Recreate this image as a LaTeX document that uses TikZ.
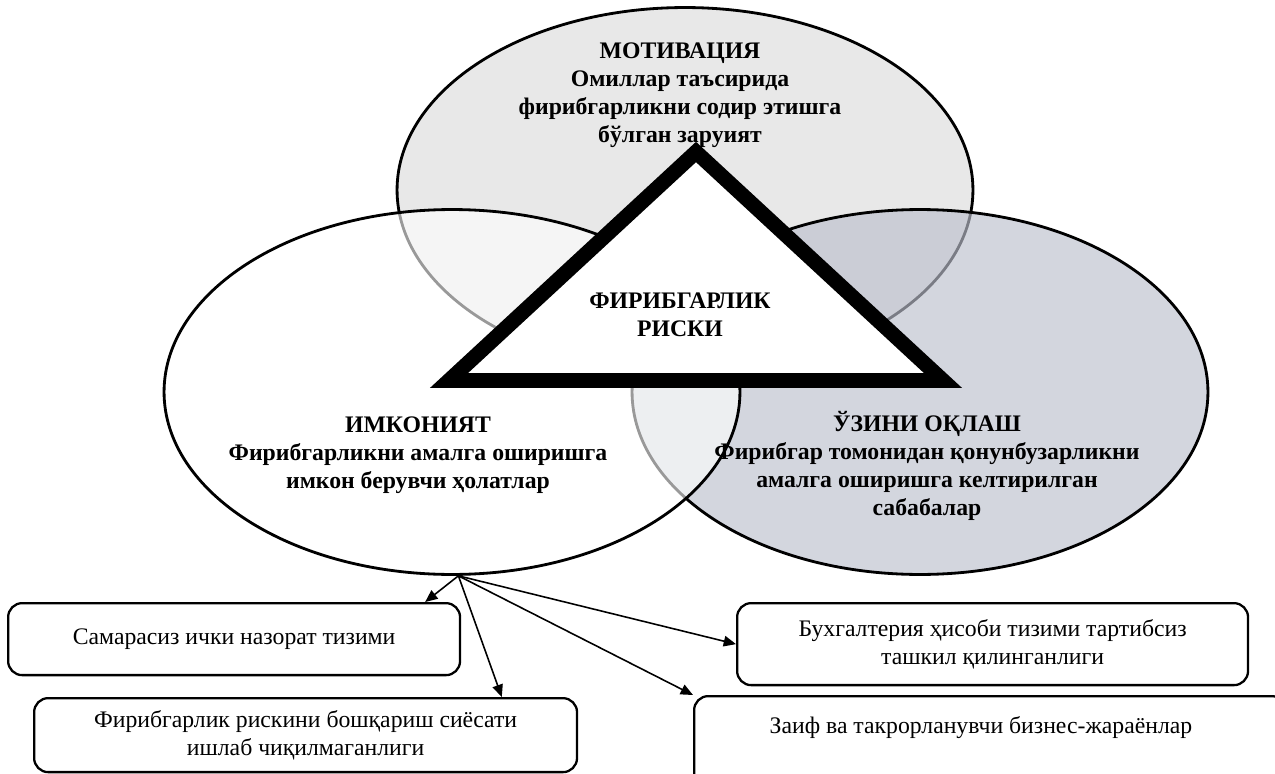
\documentclass[tikz,border=0pt]{standalone}
\usepackage{fontspec}
\setmainfont{Liberation Serif}
\usetikzlibrary{shapes.geometric,arrows.meta}

\definecolor{motivfill}{RGB}{232,232,232}
\definecolor{ozinifill}{RGB}{188,192,205}

\begin{document}
\begin{tikzpicture}[x=0.02cm, y=-0.02cm,
    oval/.style={ellipse, draw, line width=1.6pt, inner sep=0pt,
      minimum width=11.52cm, minimum height=7.3cm},
    ovaltext/.style={align=center, font=\fontsize{13.5}{15.9}\selectfont\bfseries},
    cause/.style={draw, fill=white, rounded corners=8pt, line width=1.3pt,
      anchor=north west, align=center, inner sep=0pt,
      font=\fontsize{13.5}{16.2}\selectfont},
    link/.style={line width=0.9pt, -{Triangle[length=7pt, width=6pt]}}]
  \useasboundingbox (0,0) rectangle (1275,774);

  % three factors
  \node[oval, fill=motivfill] (motiv) at (685,190) {};
  \node[oval, fill=ozinifill, fill opacity=0.65] (ozini) at (920,392) {};
  \node[oval, fill=white, fill opacity=0.6] (imkon) at (452,392) {};

  \node[ovaltext] (motivtxt) at (680,95) {МОТИВАЦИЯ\\Омиллар таъсирида\\фирибгарликни содир этишга\\бўлган заруият};
  \node[ovaltext] (imkontxt) at (418,455) {ИМКОНИЯТ\\Фирибгарликни амалга оширишга\\имкон берувчи ҳолатлар};
  \node[ovaltext] (ozinitxt) at (927,466) {ЎЗИНИ ОҚЛАШ\\Фирибгар томонидан қонунбузарликни\\амалга оширишга келтирилган\\сабабалар};

  % fraud triangle
  \draw[line width=8.5pt, fill=white] (696,152) -- (943,380.5) -- (449,380.5) -- cycle;
  \node[ovaltext] (risk) at (680,315) {ФИРИБГАРЛИК\\РИСКИ};

  % what the opportunity comes from
  \node[cause, minimum width=9.04cm, minimum height=1.44cm] (samar) at (7,602) {Самарасиз ички назорат тизими};
  \node[cause, minimum width=10.86cm, minimum height=1.48cm] (polit) at (33,697) {Фирибгарлик рискини бошқариш сиёсати\\ишлаб чиқилмаганлиги};
  \node[cause, minimum width=10.22cm, minimum height=1.64cm] (buxg) at (736,602) {Бухгалтерия ҳисоби тизими тартибсиз\\ташкил қилинганлиги};
  \node[cause, minimum width=11.84cm, minimum height=2.1cm] (zaif) at (693,695) {};
  \node[font=\fontsize{13.5}{16.2}\selectfont] (zaiftxt) at (981,728) {Заиф ва такрорланувчи бизнес-жараёнлар};

  \coordinate (root) at (imkon.-88);
  \draw[link] (root) -- (samar.11);
  \draw[link] (root) -- (polit.11);
  \draw[link] (root) -- (buxg.west);
  \draw[link] (root) -- (zaif.north west);
\end{tikzpicture}
\end{document}
